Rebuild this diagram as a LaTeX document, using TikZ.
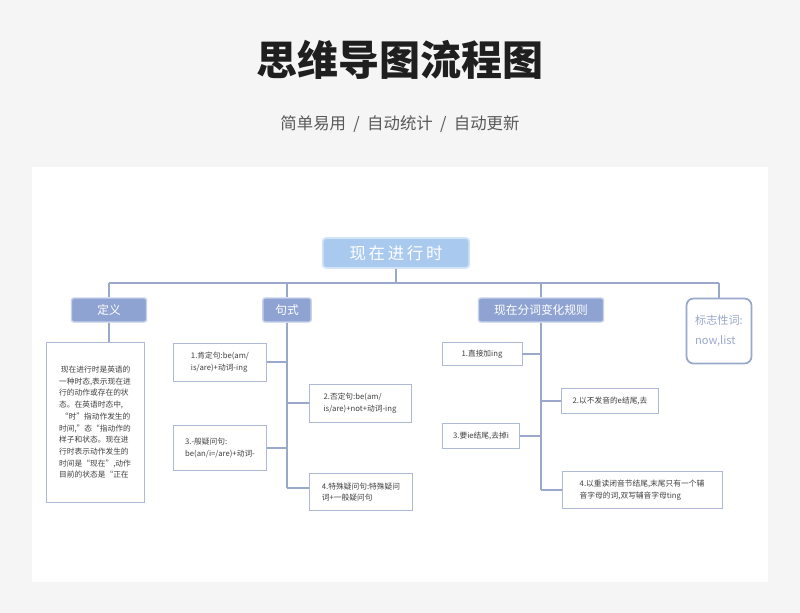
\documentclass[tikz,border=0pt]{standalone}
\usepackage{fontspec}
\setmainfont{Noto Sans CJK SC}
\usetikzlibrary{positioning}
\definecolor{linec}{HTML}{9AA8CC}
\definecolor{headc}{HTML}{8FA3D3}
\definecolor{rootc}{HTML}{A9C9EF}
\tikzset{
  head/.style={fill=headc,draw=headc!50,line width=1.2pt,rounded corners=2pt,text=white,font=\fontsize{10}{11}\selectfont,minimum height=0.72cm},
  leaf/.style={draw=linec!80,fill=white,font=\fontsize{6.6}{10}\selectfont,align=left,inner sep=3pt,text=black!75},
  conn/.style={linec,line width=1pt}
}
\begin{document}
\begin{tikzpicture}[x=0.03cm,y=-0.03cm]
\useasboundingbox (0,0) rectangle (800,613);
\fill[black!4] (0,0) rectangle (800,613);
\fill[white] (32,167) rectangle (768,582);
\node[font=\fontsize{35}{38}\selectfont\bfseries,text=black!88] (title) at (400,60) {思维导图流程图};
\node[font=\fontsize{14}{16}\selectfont,text=black!65] (sub) at (400,124) {简单易用 ~/~ 自动统计 ~/~ 自动更新};

% root and heads
\node[fill=rootc,draw=rootc!50,line width=1.5pt,rounded corners=3pt,text=white,minimum width=4.4cm,minimum height=0.9cm,font=\fontsize{14}{16}\selectfont] (root) at (396,253) {现\,在\,进\,行\,时};
\node[head,minimum width=2.25cm] (def) at (109,310) {定义};
\node[head,minimum width=1.45cm] (form) at (287,310) {句式};
\node[head,minimum width=3.75cm] (rule) at (541,310) {现在分词变化规则};
\node[draw=linec,line width=1.5pt,rounded corners=6pt,text=linec,minimum width=1.95cm,minimum height=1.95cm,align=left,font=\fontsize{9.5}{17}\selectfont] (sign) at (719,331) {标志性词:\\now,list};

\coordinate (busL) at (109,283);
\coordinate (busR) at (719,283);
\draw[conn] (root.south) -- (396,283);
\draw[conn] (busL) -- (busR);
\draw[conn] (busL) -- (def.north);
\draw[conn] (287,283) -- (form.north);
\draw[conn] (541,283) -- (rule.north);
\draw[conn] (busR) -- (sign.north);

% definition
\node[leaf,minimum width=2.95cm,minimum height=4.8cm,align=left,anchor=north] (dtext) at (95,342) {\ 现在进行时是英语的\\一种时态,表示现在进\\行的动作或存在的状\\态。在英语时态中,\\\ “时”指动作发生的\\时间,”态“指动作的\\样子和状态。现在进\\行时表示动作发生的\\时间是“现在”,动作\\目前的状态是“正在};
\draw[conn] (def.south) -- (109,342);

% forms
\node[leaf,minimum width=2.8cm,minimum height=1.15cm] (f1) at (220,362) {1.肯定句:be(am/\\is/are)+动词-ing};
\node[leaf,minimum width=3.05cm,minimum height=1.15cm] (f2) at (360,403) {2.否定句:be(am/\\is/are)+not+动词-ing};
\node[leaf,minimum width=2.8cm,minimum height=1.35cm] (f3) at (220,448) {3.-般疑问句:\\be(an/i=/are)+动词-};
\node[leaf,minimum width=3.1cm,minimum height=1.1cm] (f4) at (361,492) {4.特殊疑问句:特殊疑问\\词+一般疑问句};
\draw[conn] (form.south) -- (287,488);
\foreach \n/\y in {f1/362,f3/448} \draw[conn] (\n.east) -- (287,\y);
\foreach \n/\y in {f2/403,f4/488} \draw[conn] (287,\y) -- (\n.west |- 0,\y);

% rules
\node[leaf,minimum width=2.4cm,minimum height=0.68cm] (r1) at (482,354) {1.直接加ing};
\node[leaf,minimum width=2.9cm,minimum height=0.75cm] (r2) at (610,401) {2.以不发音的e结尾,去};
\node[leaf,minimum width=2.3cm,minimum height=0.75cm] (r3) at (481,436) {3.要ie结尾,去掉i};
\node[leaf,minimum width=4.8cm,minimum height=1.1cm] (r4) at (642,490) {4.以重读闭音节结尾,末尾只有一个辅\\音字母的词,双写辅音字母ting};
\draw[conn] (rule.south) -- (541,490);
\foreach \n/\y in {r1/354,r3/436} \draw[conn] (\n.east) -- (541,\y);
\foreach \n/\y in {r2/401,r4/490} \draw[conn] (541,\y) -- (\n.west);
\end{tikzpicture}
\end{document}
